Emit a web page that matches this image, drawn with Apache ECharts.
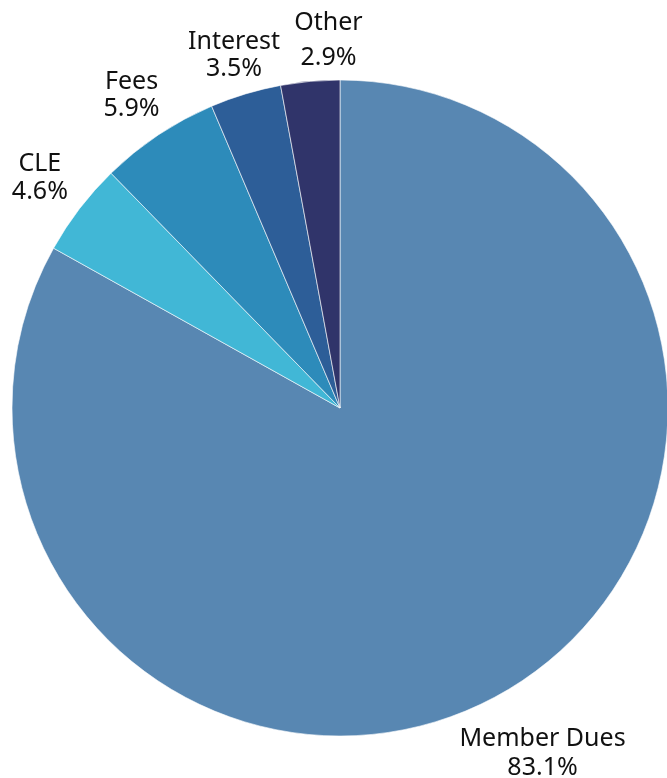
<!DOCTYPE html>
<html>
<head>
<meta charset="utf-8">
<script src="https://cdn.jsdelivr.net/npm/echarts@6/dist/echarts.min.js"></script>
<style>html,body{margin:0;padding:0;background:#fff}#c{width:667px;height:778px}</style>
</head>
<body>
<div id="c"></div>
<script>
const categories = ['Member Dues', 'CLE', 'Fees', 'Interest', 'Other'];
const values = [83.1, 4.6, 5.9, 3.5, 2.9];
const colors = ['#5887B2', '#41B7D6', '#2D8BBA', '#2D5E98', '#30346A'];
// label placement: distance from centre and horizontal nudge
const labelRadius = [400, 378, 376, 368, 369];
const labelDx = [0, 0, 0, 0, 22];
const labelLineHeight = [29, 28, 27, 27, 35];

const CX = 340, CY = 408, R = 328;
const total = values.reduce((a, b) => a + b, 0);
function midAngle(i) {
  let cum = 0;
  for (let k = 0; k < i; k++) cum += values[k];
  return (cum + values[i] / 2) / total * Math.PI * 2;
}

const chart = echarts.init(document.getElementById('c'), null, {renderer: 'canvas'});
chart.setOption({
  animation: false,
  series: [{
    type: 'pie',
    center: [CX, CY],
    radius: [0, R],
    startAngle: 90,
    clockwise: true,
    avoidLabelOverlap: false,
    data: categories.map((n, i) => ({
      name: n, value: values[i],
      itemStyle: {color: colors[i]},
      label: {lineHeight: labelLineHeight[i]}
    })),
    itemStyle: {borderColor: '#ffffff', borderWidth: 0.6},
    label: {
      show: true,
      position: 'inside',
      rotate: 0,
      overflow: 'none',
      formatter: p => p.name + '\n' + p.value.toFixed(1) + '%',
      fontFamily: 'Noto Sans',
      fontSize: 25,
      color: '#111111',
      align: 'center'
    },
    labelLine: {show: false},
    labelLayout: function (params) {
      const i = params.dataIndex;
      const a = midAngle(i);
      return {
        x: CX + labelRadius[i] * Math.sin(a) + labelDx[i],
        y: CY - labelRadius[i] * Math.cos(a),
        align: 'center',
        verticalAlign: 'middle',
        hideOverlap: false,
        moveOverlap: null
      };
    },
    emphasis: {disabled: true}
  }]
});
</script>
</body>
</html>
